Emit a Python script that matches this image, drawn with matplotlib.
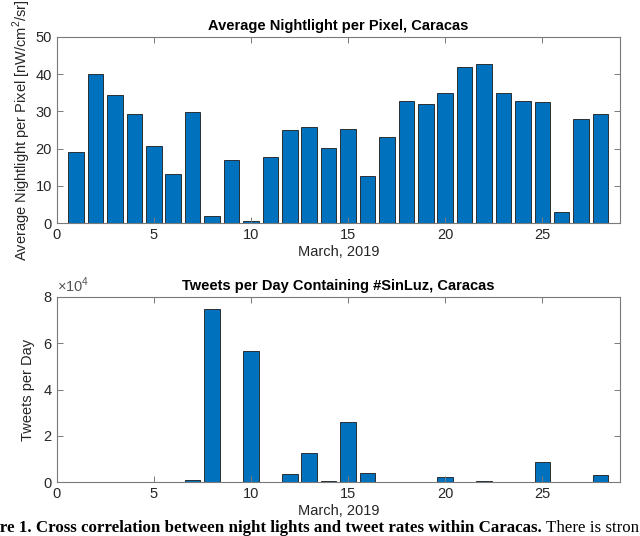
import matplotlib
matplotlib.use("Agg")
import matplotlib.pyplot as plt
from matplotlib.ticker import FuncFormatter, MultipleLocator

days = list(range(1, 29))
nightlight = [19.0, 40.0, 34.3, 29.3, 20.6, 13.1, 29.7, 2.0, 17.0, 0.6,
              17.7, 25.1, 25.8, 20.3, 25.3, 12.7, 23.0, 32.8, 32.1, 34.8,
              41.8, 42.6, 35.0, 32.8, 32.4, 2.9, 28.0, 29.3]
tweets = [200, 0, 200, 0, 200, 250, 1000, 74800, 200, 56500,
          200, 3600, 12600, 700, 26000, 3900, 0, 0, 0, 2300,
          0, 500, 0, 0, 8900, 0, 0, 3300]

title_top = "Average Nightlight per Pixel, Caracas"
title_bot = "Tweets per Day Containing #SinLuz, Caracas"
xlabel = "March, 2019"
ylabel_top = "Average Nightlight per Pixel [nW/cm$^2$/sr]"
ylabel_bot = "Tweets per Day"
cap_hidden = "Figu"
cap_bold = "re 1. Cross correlation between night lights and tweet rates within Caracas."
cap_norm = " There is strong"
cap_norm_visible = " There is stron"

plt.rcParams['font.family'] = ['Liberation Sans', 'DejaVu Sans']
plt.rcParams['mathtext.fontset'] = 'custom'
plt.rcParams['mathtext.rm'] = 'Liberation Sans'

bar_color = '#0072BD'
spine_col = '#7a7a7a'
txt_col = '#262626'

fig = plt.figure(figsize=(6.4, 5.36), dpi=100)
L, R = 56.7 / 640, 620 / 640
ax1 = fig.add_axes([L, 1 - 223.3 / 536, R - L, (223.3 - 36.7) / 536])
ax2 = fig.add_axes([L, 1 - 482.3 / 536, R - L, (482.3 - 296.7) / 536])

def style(ax):
    for s in ax.spines.values():
        s.set_color(spine_col)
        s.set_linewidth(0.8)
    ax.tick_params(direction='in', top=True, right=True, length=4, width=0.7,
                   color=spine_col, labelcolor=txt_col, labelsize=10.5, pad=3.5)
    ax.set_xlim(0, 29)
    ax.xaxis.set_major_locator(MultipleLocator(5))
    ax.set_xlabel(xlabel, fontsize=10.5, color=txt_col, labelpad=2)

ax1.bar(days, nightlight, width=0.8, color=bar_color, edgecolor='#1a1a1a', linewidth=0.6)
style(ax1)
ax1.set_ylim(0, 50)
ax1.yaxis.set_major_locator(MultipleLocator(10))
ax1.set_title(title_top, fontsize=10.5, fontweight='bold', pad=5)
ax1.set_ylabel(ylabel_top, fontsize=10.5, color=txt_col, labelpad=1.5)

ax2.bar(days, tweets, width=0.8, color=bar_color, edgecolor='#1a1a1a', linewidth=0.6)
style(ax2)
ax2.set_ylim(0, 80000)
ax2.yaxis.set_major_locator(MultipleLocator(20000))
ax2.yaxis.set_major_formatter(FuncFormatter(lambda v, p: f"{v/1e4:g}"))
ax2.set_title(title_bot, fontsize=10.5, fontweight='bold', pad=5)
ax2.set_ylabel(ylabel_bot, fontsize=10.5, color=txt_col, labelpad=6)
ax2.text(0.0, 1.01, r"$\times$10$^4$", transform=ax2.transAxes, fontsize=10.5,
         color='#555555', ha='left', va='bottom')

# caption, cropped at the left and right figure edges like the reference
renderer = fig.canvas.get_renderer()

def width_of(s, fs, weight):
    t = fig.text(0, 0, s, fontsize=fs, fontweight=weight, family='Liberation Serif')
    w = t.get_window_extent(renderer).width
    t.remove()
    return w

base = 10.0
vis = width_of(cap_bold, base, 'bold') + width_of(cap_norm_visible, base, 'normal')
fs = base * 640 / vis
w_hidden = width_of(cap_hidden, fs, 'bold')
y0 = 1 - 532 / 536
t0 = fig.text(-w_hidden / 640, y0, cap_hidden + cap_bold, fontsize=fs, fontweight='bold',
              family='Liberation Serif', ha='left', va='baseline')
bb = t0.get_window_extent(renderer)
fig.text(bb.x1 / 640, y0, cap_norm, fontsize=fs, family='Liberation Serif',
         ha='left', va='baseline')

fig.savefig('out.png', dpi=100)
